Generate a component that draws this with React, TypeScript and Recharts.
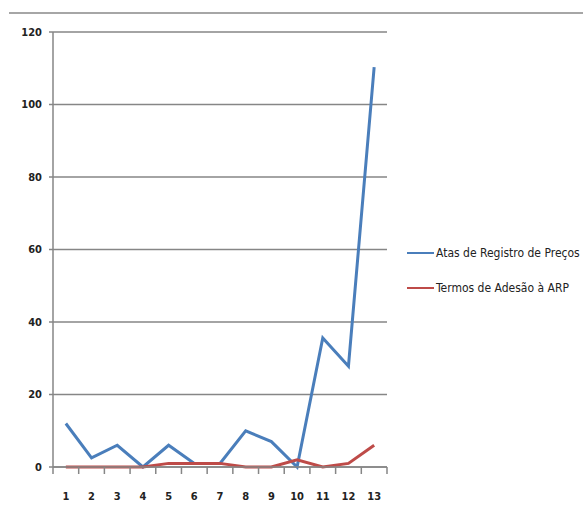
import React from 'react';
import { LineChart, Line, XAxis, YAxis, CartesianGrid } from 'recharts';

const categories = [1, 2, 3, 4, 5, 6, 7, 8, 9, 10, 11, 12, 13];
const atasValues = [12, 2.5, 6, 0, 6, 1, 1, 10, 7, 0, 35.6, 27.8, 110.3];
const termosValues = [0, 0, 0, 0, 1, 1, 1, 0, 0, 2, 0, 1, 6];
const yTicks = [0, 20, 40, 60, 80, 100, 120];

const series = [
  { key: 'atas', name: 'Atas de Registro de Preços', color: '#4a7ebb' },
  { key: 'termos', name: 'Termos de Adesão à ARP', color: '#be4b48' },
];

const data = categories.map((c, i) => ({
  x: c,
  atas: atasValues[i],
  termos: termosValues[i],
}));

// labels sit on the integers, tick marks on the half-steps between them
const boundaries = [...categories.map((c) => c - 0.5), categories[categories.length - 1] + 0.5];
const xTicks = [...boundaries, ...categories].sort((a, b) => a - b);

const font = '"DejaVu Sans Condensed", "DejaVu Sans", sans-serif';

const XTick = (props: any) => {
  const { x, y, payload } = props;
  if (Number.isInteger(payload.value)) {
    return (
      <text x={x} y={y} dy="0.71em" textAnchor="middle" fontSize={11} fontWeight="bold" fill="#222" fontFamily={font}>
        {payload.value}
      </text>
    );
  }
  return <line x1={x} x2={x} y1={y - 25} y2={y - 18} stroke="#868686" strokeWidth={1.5} />;
};

const App: React.FC = () => {
  return (
    <div style={{ position: 'absolute', left: 0, top: 0, width: 583, height: 515, background: '#fff' }}>
      <div style={{ position: 'absolute', left: 9, right: 0, top: 12, borderTop: '2px solid #a6a6a6' }} />
      <LineChart
        width={583}
        height={515}
        data={data}
        margin={{ top: 32, right: 196, bottom: 0, left: 0 }}
      >
        <CartesianGrid vertical={false} stroke="#868686" strokeWidth={1.5} />
        <XAxis
          dataKey="x"
          type="number"
          domain={[0.5, 13.5]}
          ticks={xTicks}
          interval={0}
          height={48}
          tickLine={false}
          tickSize={6}
          tickMargin={19}
          axisLine={{ stroke: '#868686', strokeWidth: 1.5 }}
          tick={<XTick />}
        />
        <YAxis
          domain={[0, 120]}
          ticks={yTicks}
          width={53}
          tickLine={{ stroke: '#868686', strokeWidth: 1.5 }}
          tickSize={4}
          tickMargin={7}
          axisLine={{ stroke: '#868686', strokeWidth: 1.5 }}
          tick={{ fontSize: 11, fontWeight: 'bold', fill: '#222', fontFamily: font }}
        />
        {series.map((s) => (
          <Line
            key={s.key}
            type="linear"
            dataKey={s.key}
            name={s.name}
            stroke={s.color}
            strokeWidth={3}
            dot={false}
            isAnimationActive={false}
          />
        ))}
      </LineChart>
      <div style={{ position: 'absolute', left: 407, top: 244, fontFamily: font, fontSize: 12, color: '#222' }}>
        {series.map((s) => (
          <div key={s.key} style={{ display: 'flex', alignItems: 'center', height: 18, marginBottom: 17 }}>
            <span style={{ display: 'inline-block', width: 27, height: 2, background: s.color, marginRight: 2 }} />
            <span style={{ whiteSpace: 'nowrap' }}>{s.name}</span>
          </div>
        ))}
      </div>
    </div>
  );
};

export default App;
